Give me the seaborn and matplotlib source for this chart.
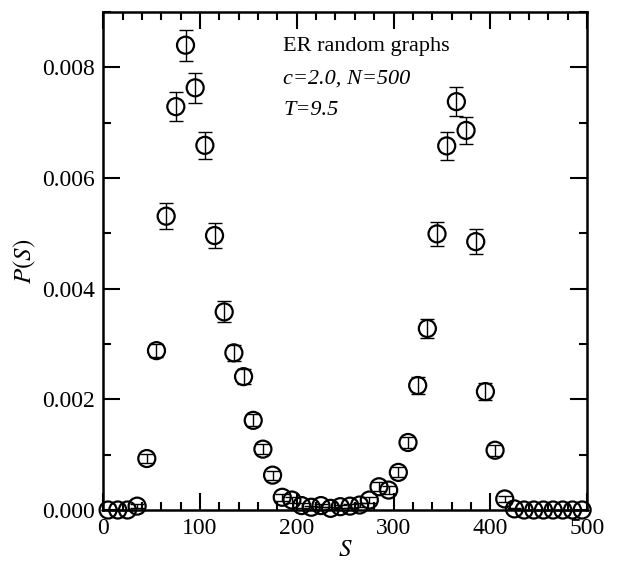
import matplotlib
matplotlib.use("Agg")
import matplotlib.pyplot as plt
import seaborn as sns
import pandas as pd
from matplotlib.ticker import MultipleLocator, FormatStrFormatter

# cluster size S (bin centres)
S = [5, 15, 25, 35, 45, 55, 65, 75, 85, 95,
     105, 115, 125, 135, 145, 155, 165, 175, 185, 195,
     205, 215, 225, 235, 245, 255, 265, 275, 285, 295,
     305, 315, 325, 335, 345, 355, 365, 375, 385, 395,
     405, 415, 425, 435, 445, 455, 465, 475, 485, 495]

# P(S)
P = [0.0, 0.0, 0.0, 0.00007, 0.00093, 0.00288, 0.00531, 0.00729, 0.00840, 0.00763,
     0.00659, 0.00496, 0.00358, 0.00284, 0.00241, 0.00162, 0.00110, 0.00063, 0.00023, 0.00018,
     0.00008, 0.00005, 0.00008, 0.00003, 0.00006, 0.00007, 0.00009, 0.00018, 0.00042, 0.00036,
     0.00068, 0.00122, 0.00225, 0.00328, 0.00499, 0.00658, 0.00738, 0.00686, 0.00485, 0.00214,
     0.00108, 0.00020, 0.00002, 0.0, 0.0, 0.0, 0.0, 0.0, 0.0, 0.0]

# error bars
P_err = [0.0, 0.0, 0.0, 0.00003, 0.00008, 0.00012, 0.00023, 0.00026, 0.00028, 0.00027,
         0.00025, 0.00022, 0.00019, 0.00015, 0.00014, 0.00011, 0.00009, 0.00008, 0.00006, 0.00005,
         0.00004, 0.00003, 0.00003, 0.00002, 0.00003, 0.00003, 0.00004, 0.00005, 0.00008, 0.00007,
         0.00009, 0.00010, 0.00015, 0.00018, 0.00022, 0.00025, 0.00026, 0.00025, 0.00022, 0.00015,
         0.00010, 0.00005, 0.00001, 0.0, 0.0, 0.0, 0.0, 0.0, 0.0, 0.0]

df = pd.DataFrame({"S": S, "P": P, "err": P_err})

sns.set_style("ticks")
plt.rcParams["font.family"] = ["Liberation Serif", "DejaVu Serif"]
plt.rcParams["mathtext.fontset"] = "stix"
for key in ["text.color", "axes.labelcolor", "xtick.color", "ytick.color", "axes.edgecolor"]:
    plt.rcParams[key] = "black"

fig, ax = plt.subplots(figsize=(6.29, 5.61), dpi=100)
fig.subplots_adjust(left=0.1642, right=0.9332, bottom=0.0909, top=0.9786)

ax.errorbar(df["S"], df["P"], yerr=df["err"], fmt="none", ecolor="black",
            elinewidth=1.0, capsize=5, capthick=1.0, clip_on=False, zorder=2)
sns.scatterplot(data=df, x="S", y="P", ax=ax, marker="o", s=150,
                facecolors="none", edgecolor="black", linewidth=1.6,
                clip_on=False, zorder=3)

ax.set_xlim(0, 500)
ax.set_ylim(0, 0.009)
ax.xaxis.set_major_locator(MultipleLocator(100))
ax.xaxis.set_minor_locator(MultipleLocator(20))
ax.yaxis.set_major_locator(MultipleLocator(0.002))
ax.yaxis.set_minor_locator(MultipleLocator(0.001))
ax.yaxis.set_major_formatter(FormatStrFormatter("%.3f"))

ax.tick_params(which="both", direction="in", top=True, right=True,
               width=1.5, labelsize=17, color="black", labelcolor="black")
ax.tick_params(which="major", length=12, pad=6)
ax.tick_params(which="minor", length=6)
for sp in ax.spines.values():
    sp.set_linewidth(1.8)
    sp.set_color("black")

ax.set_xlabel("$S$", fontsize=18, labelpad=0)
ax.set_ylabel("$P(S)$", fontsize=18, labelpad=3)

ax.text(0.372, 0.93, "ER random graphs", transform=ax.transAxes,
        fontsize=16, va="center", ha="left")
ax.text(0.372, 0.865, "c=2.0, N=500", transform=ax.transAxes,
        fontsize=16, va="center", ha="left", style="italic")
ax.text(0.372, 0.803, "T=9.5", transform=ax.transAxes,
        fontsize=16, va="center", ha="left", style="italic")

fig.savefig("out.png", dpi=100)
plt.close(fig)
